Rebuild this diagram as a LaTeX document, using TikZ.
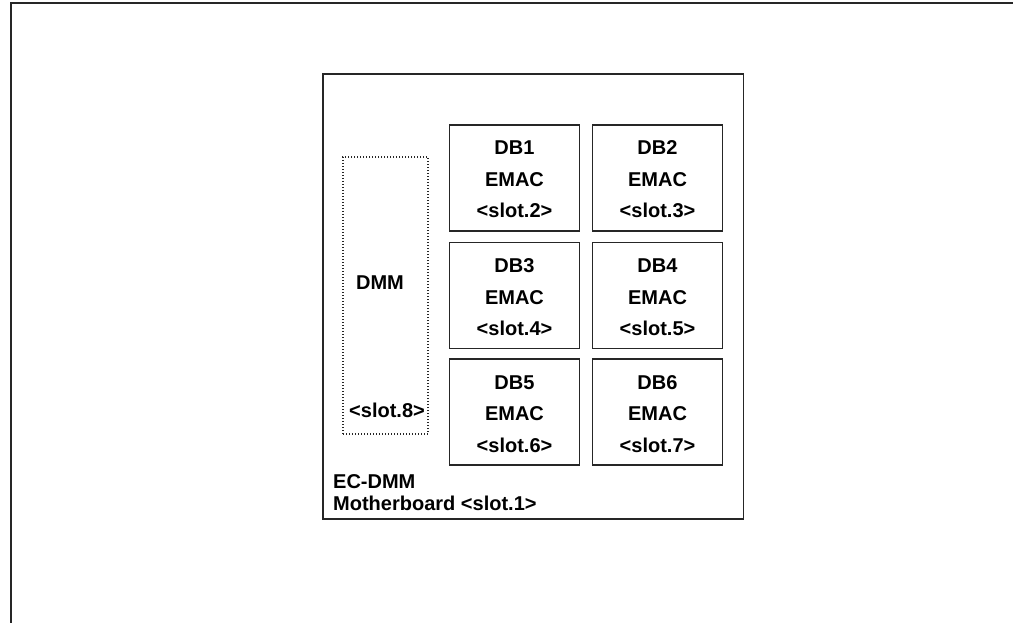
\documentclass[tikz,border=0pt]{standalone}
\usepackage{fontspec}
\setmainfont{Liberation Sans}
% strut giving every label line the same height and depth
\newcommand\lblstrut{\rule[-5pt]{0pt}{27pt}}
\begin{document}
\begin{tikzpicture}[x=1pt,y=-1pt,
  every node/.style={font=\bfseries\fontsize{20}{31.5}\selectfont, inner sep=0pt},
  dbbox/.style={draw=black!85, line width=1.3pt, minimum width=130pt, minimum height=106pt, align=center},
  dmmbox/.style={draw=black!85, line width=1.3pt, dash pattern=on 1pt off 2pt, minimum width=85pt, minimum height=277pt},
  board/.style={draw=black!85, line width=1.4pt, minimum width=420.5pt, minimum height=445pt},
  frame/.style={draw=black!85, line width=2pt}
]
\useasboundingbox (0,0) rectangle (1013,623);
% page frame: top and left edges only
\coordinate (ftl) at (11,3);
\coordinate (ftr) at (1013,3);
\coordinate (fbl) at (11,623);
\draw[frame] (ftr) -- (ftl) -- (fbl);

% motherboard outline
\node[board] (mb) at (533.25,296.5) {};
\node[anchor=base west] (ecdmm) at (333,488) {EC-DMM};
\node[anchor=base west] (mbl) at (333,510) {Motherboard <slot.1>};

% DMM slot (dotted)
\node[dmmbox] (dmm) at (385.5,295.5) {};
\node[anchor=base] (dmml) at (380,289) {DMM};
\node[anchor=base] (dmms) at (387,417) {<slot.8>};

% daughter boards
\node[dbbox] (db1) at (514.5,178) {\lblstrut DB1\\EMAC\\\lblstrut <slot.2>};
\node[dbbox] (db2) at (657.5,178) {\lblstrut DB2\\EMAC\\\lblstrut <slot.3>};
\node[dbbox] (db3) at (514.5,295.5) {\lblstrut DB3\\EMAC\\\lblstrut <slot.4>};
\node[dbbox] (db4) at (657.5,295.5) {\lblstrut DB4\\EMAC\\\lblstrut <slot.5>};
\node[dbbox] (db5) at (514.5,412) {\lblstrut DB5\\EMAC\\\lblstrut <slot.6>};
\node[dbbox] (db6) at (657.5,412) {\lblstrut DB6\\EMAC\\\lblstrut <slot.7>};
\end{tikzpicture}
\end{document}
